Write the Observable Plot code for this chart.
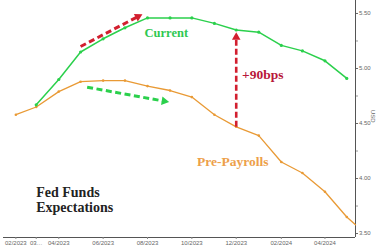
<!DOCTYPE html>
<html><head><meta charset="utf-8">
<script src="https://cdn.jsdelivr.net/npm/d3@7"></script>
<script src="https://cdn.jsdelivr.net/npm/@observablehq/plot@0.6"></script>
<style>body{margin:0;background:#fff;overflow:hidden}</style>
</head><body><div id="chart"></div>
<script>
// ---- data ----
const preMonths = ["2023-02","2023-03","2023-04","2023-05","2023-06","2023-07","2023-08","2023-09","2023-10","2023-11","2023-12","2024-01","2024-02","2024-03","2024-04","2024-05"];
const preValues = [4.58, 4.65, 4.79, 4.88, 4.89, 4.89, 4.84, 4.80, 4.74, 4.58, 4.47, 4.39, 4.15, 4.05, 3.88, 3.65];
const preTailDate = "2024-05-13";
const preTailValue = 3.58;

const curMonths = ["2023-03","2023-04","2023-05","2023-06","2023-07","2023-08","2023-09","2023-10","2023-11","2023-12","2024-01","2024-02","2024-03","2024-04","2024-05"];
const curValues = [4.67, 4.90, 5.15, 5.27, 5.37, 5.46, 5.46, 5.46, 5.41, 5.35, 5.33, 5.21, 5.16, 5.07, 4.91];

const xTickDates = ["2023-02","2023-03","2023-04","2023-06","2023-08","2023-10","2023-12","2024-02","2024-04"];
const xTickLabels = ["02/2023","03\u2026","04/2023","06/2023","08/2023","10/2023","12/2023","02/2024","04/2024"];
const yTicks = [3.5, 4.0, 4.5, 5.0, 5.5];
const yMinorTicks = [3.75, 4.25, 4.75, 5.25];

// annotations (data units)
const redArrowFrom = ["2023-05-01", 5.20];
const redArrowTo = ["2023-07-19", 5.472];
const greenArrowFrom = ["2023-05-10", 4.83];
const greenArrowTo = ["2023-08-24", 4.703];
const gapMonth = "2023-12";
const gapTop = 5.285;
const currentLabel = ["2023-07-28", 5.327, "Current"];
const gapLabel = ["2023-12-09", 4.945, "+90bps"];
const preLabel = ["2023-10-08", 4.155, "Pre-Payrolls"];
const titleLabel = ["2023-03-01", 3.805, "Fed Funds\nExpectations"];

// ---- build ----
const P = s => s.length === 7 ? d3.utcParse("%Y-%m")(s) : d3.utcParse("%Y-%m-%d")(s);
const pre = preMonths.map((m, i) => ({date: P(m), v: preValues[i]}));
const preLine = pre.concat([{date: P(preTailDate), v: preTailValue}]);
const cur = curMonths.map((m, i) => ({date: P(m), v: curValues[i]}));
const tickDates = xTickDates.map(P);
const labelFor = new Map(tickDates.map((d, i) => [+d, xTickLabels[i]]));

const xDomain = [P("2023-01-15"), P("2024-05-13")];
const yDomain = [3.464, 5.618];

const GREEN = "#2bd04c", ORANGE = "#e99a35", RED = "#d21f2f";
const serif = "'Liberation Serif', serif";

const gapFromV = preValues[preMonths.indexOf(gapMonth)];

const chart = Plot.plot({
  width: 383, height: 249,
  marginLeft: 3, marginRight: 28, marginTop: 0, marginBottom: 12,
  style: {fontFamily: "Liberation Sans, Arial, sans-serif", background: "#fff"},
  x: {type: "utc", domain: xDomain},
  y: {domain: yDomain},
  marks: [
    Plot.ruleY([yDomain[0]], {stroke: "#555", strokeWidth: 1}),
    Plot.ruleX([xDomain[1]], {stroke: "#555", strokeWidth: 1}),
    Plot.axisX({ticks: tickDates, tickFormat: d => labelFor.get(+d), tickSize: 2, tickPadding: 1, fontSize: 6, fill: "#666", stroke: "#888", label: null}),
    Plot.axisY({anchor: "right", ticks: yTicks, tickFormat: ".2f", tickSize: 2, tickPadding: 1.5, fontSize: 6, fill: "#666", stroke: "#666", label: null}),
    Plot.axisY({anchor: "right", ticks: yMinorTicks, tickFormat: () => "", tickSize: 2, stroke: "#999", label: null}),
    Plot.text(["USD"], {frameAnchor: "right", dx: 17, dy: 3.5, rotate: 90, fontSize: 6, fill: "#666"}),
    // lines
    Plot.line(preLine, {x: "date", y: "v", stroke: ORANGE, strokeWidth: 1.3}),
    Plot.dot(pre, {x: "date", y: "v", r: 1.3, fill: ORANGE}),
    Plot.line(cur, {x: "date", y: "v", stroke: GREEN, strokeWidth: 1.5}),
    Plot.dot(cur, {x: "date", y: "v", r: 1.6, fill: GREEN}),
    // arrows
    Plot.link([0], {x1: () => P(redArrowFrom[0]), y1: () => redArrowFrom[1], x2: () => P(redArrowTo[0]), y2: () => redArrowTo[1], stroke: RED, strokeWidth: 3, strokeDasharray: "6,3.5"}),
    Plot.dot([0], {x: () => P(redArrowTo[0]), y: () => redArrowTo[1], symbol: "triangle", r: 3.2, fill: RED, rotate: 62.7}),
    Plot.link([0], {x1: () => P(greenArrowFrom[0]), y1: () => greenArrowFrom[1], x2: () => P(greenArrowTo[0]), y2: () => greenArrowTo[1], stroke: GREEN, strokeWidth: 3, strokeDasharray: "6,3.5"}),
    Plot.dot([0], {x: () => P(greenArrowTo[0]), y: () => greenArrowTo[1], symbol: "triangle", r: 3.2, fill: GREEN, rotate: 99}),
    Plot.link([0], {x1: () => P(gapMonth), y1: () => gapFromV, x2: () => P(gapMonth), y2: () => gapTop, stroke: RED, strokeWidth: 2.6, strokeDasharray: "6,3"}),
    Plot.dot([0], {x: () => P(gapMonth), y: () => gapTop, symbol: "triangle", r: 3.2, fill: RED, rotate: 0}),
    // labels
    Plot.text([currentLabel], {x: d => P(d[0]), y: d => d[1], text: d => d[2], textAnchor: "start", fontSize: 12.5, fontWeight: "bold", fontFamily: serif, fill: "#2ec850"}),
    Plot.text([gapLabel], {x: d => P(d[0]), y: d => d[1], text: d => d[2], textAnchor: "start", fontSize: 13.5, fontWeight: "bold", fontFamily: serif, fill: "#b8173a"}),
    Plot.text([preLabel], {x: d => P(d[0]), y: d => d[1], text: d => d[2], textAnchor: "start", fontSize: 13.5, fontWeight: "bold", fontFamily: serif, fill: "#eda04a"}),
    Plot.text([titleLabel], {x: d => P(d[0]), y: d => d[1], text: d => d[2], textAnchor: "start", fontSize: 14, lineHeight: 1.07, fontWeight: "bold", fontFamily: serif, fill: "#222"})
  ]
});
document.getElementById("chart").appendChild(chart);
</script>
</body></html>
